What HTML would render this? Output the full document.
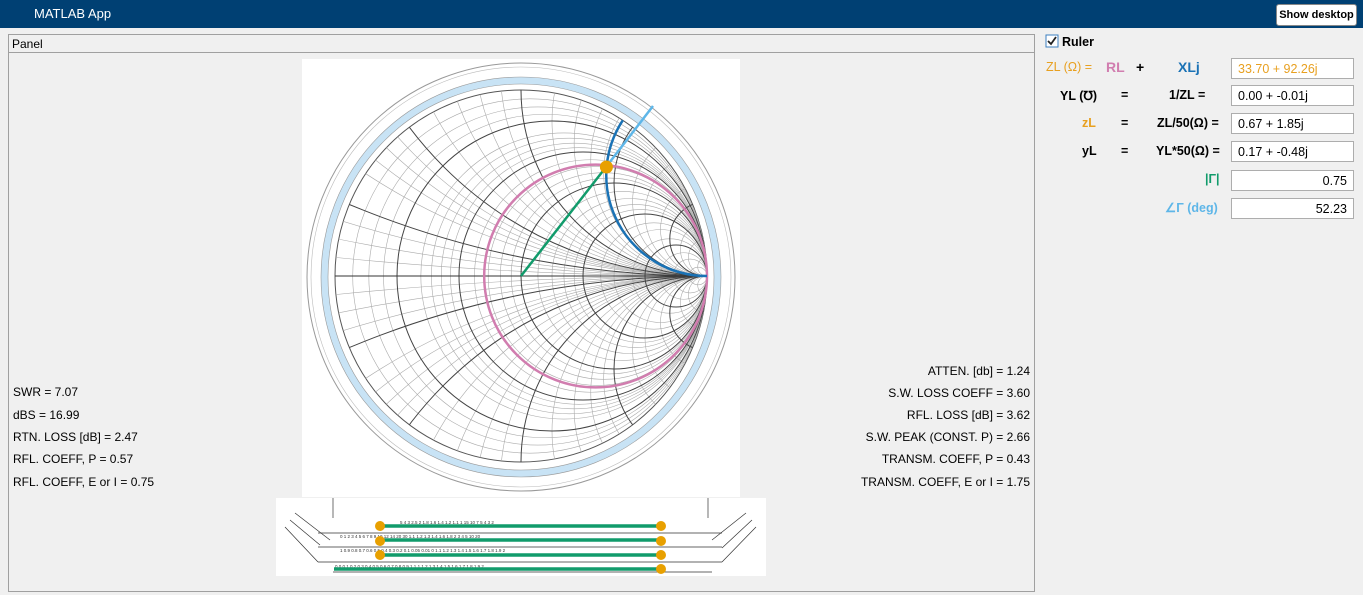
<!DOCTYPE html>
<html><head><meta charset="utf-8"><style>
body{margin:0;width:1363px;height:595px;background:#f0f0f0;font-family:"Liberation Sans",Arial,sans-serif;position:relative;overflow:hidden}
.top{position:absolute;left:0;top:0;width:1363px;height:28px;background:#004073}
.top span{position:absolute;left:34px;top:6px;color:#fff;font-size:13px}
.btn{position:absolute;right:6px;top:4px;width:79px;height:20px;background:#fff;border:1px solid #888;border-radius:3px;font-size:11px;font-weight:bold;text-align:center;line-height:20px;color:#000}
.panel{position:absolute;left:8px;top:34px;width:1025px;height:556px;border:1px solid #a0a0a0}
.ptitle{position:absolute;left:0;top:0;width:1025px;height:18px;border-bottom:1px solid #a0a0a0;font-size:12px;line-height:18px;padding-left:3px;box-sizing:border-box}
.lt{position:absolute;font-size:12px;color:#000;white-space:nowrap}
.r{text-align:right}
.lab{position:absolute;font-size:12.5px;font-weight:bold;white-space:nowrap}
.box{position:absolute;left:1231px;width:123px;height:21px;background:#fff;border:1px solid #adadad;font-size:12.5px;line-height:20px;padding:0 6px;box-sizing:border-box}
svg{display:block}
</style></head><body>
<div class="top"><span>MATLAB App</span><div class="btn">Show desktop</div></div>
<div class="panel"><div class="ptitle">Panel</div></div>
<svg style="position:absolute;left:0;top:0" width="1363" height="590">
<rect x="302" y="59" width="438" height="438" fill="#fff"/>
<rect x="276" y="498" width="490" height="78" fill="#fff"/>
<defs><clipPath id="uc"><circle cx="521" cy="276" r="186"/></clipPath></defs>
<circle cx="521" cy="277" r="214" fill="none" stroke="#999" stroke-width="1"/>
<circle cx="521" cy="277" r="210" fill="none" stroke="#bbb" stroke-width="0.6"/>
<circle cx="521" cy="277" r="196.5" fill="none" stroke="#c8e3f5" stroke-width="7"/>
<circle cx="521" cy="277" r="200" fill="none" stroke="#999" stroke-width="0.6"/>
<circle cx="521" cy="277" r="193" fill="none" stroke="#999" stroke-width="0.6"/>
<circle cx="521" cy="276" r="186" fill="none" stroke="#555" stroke-width="1"/>
<g id="grid" clip-path="url(#uc)" fill="none"></g>
<line x1="335" y1="276" x2="707" y2="276" stroke="#333" stroke-width="1"/>
<circle cx="595.6" cy="276" r="111.4" fill="none" stroke="#d17daf" stroke-width="2.5"/>
<path d="M707,276 A100.5,100.5 0 0 1 622.8,120.3" fill="none" stroke="#1a72b5" stroke-width="2.5"/>
<line x1="606.4" y1="166.5" x2="653" y2="106" stroke="#5eb6e8" stroke-width="2.5"/>
<line x1="521" y1="276" x2="606.4" y2="166.5" stroke="#119b6b" stroke-width="2.5"/>
<circle cx="606.4" cy="167" r="6.5" fill="#e8a000"/>
<g stroke="#333" stroke-width="0.7" fill="none">
<line x1="295" y1="513" x2="330" y2="540"/><line x1="290" y1="520" x2="320" y2="545"/><line x1="285" y1="527" x2="318" y2="562"/>
<line x1="746" y1="513" x2="712" y2="540"/><line x1="752" y1="520" x2="722" y2="548"/><line x1="756" y1="527" x2="722" y2="562"/>
<line x1="318" y1="533" x2="722" y2="533"/><line x1="318" y1="547" x2="722" y2="547"/><line x1="318" y1="562" x2="722" y2="562"/>
<line x1="333" y1="572" x2="712" y2="572"/>
<line x1="333" y1="498" x2="333" y2="518"/><line x1="708" y1="498" x2="708" y2="518"/>
</g>
<g fill="#333" font-size="4.5" font-family="Liberation Sans">
<text x="400" y="524">5 4 3 2.5 2 1.8 1.6 1.4 1.2 1.1 1 15 10 7 5 4 3 2</text>
<text x="340" y="538">0 1 2 3 4 5 6 7 8 9 10 12 14 20 30 1.1 1.2 1.3 1.4 1.6 1.8 2 3 4 5 10 20</text>
<text x="340" y="552">1 0.9 0.8 0.7 0.6 0.5 0.4 0.3 0.2 0.1 0.05 0.01 0 1.1 1.2 1.3 1.4 1.5 1.6 1.7 1.8 1.9 2</text>
<text x="335" y="568">0.0 0.1 0.2 0.3 0.4 0.5 0.6 0.7 0.8 0.9 1 1.1 1.2 1.3 1.4 1.5 1.6 1.7 1.8 1.9 2</text>
</g>
<g stroke="#119b6b" stroke-width="3.5"><line x1="380" y1="526" x2="661" y2="526"/><line x1="380" y1="540" x2="661" y2="540"/><line x1="380" y1="555" x2="661" y2="555"/><line x1="334" y1="569" x2="661" y2="569"/></g>
<g fill="#e8a000"><circle cx="380" cy="526" r="5"/><circle cx="661" cy="526" r="5"/><circle cx="380" cy="541" r="5"/><circle cx="661" cy="541" r="5"/><circle cx="380" cy="555" r="5"/><circle cx="661" cy="555" r="5"/><circle cx="661" cy="569" r="5"/></g>
<rect x="1046" y="35" width="12" height="12" fill="#fff" stroke="#3c7fc0"/>
<path d="M1048,41 l3,3 l5,-7" stroke="#222" stroke-width="1.8" fill="none"/>
</svg>
<script>
var g=document.getElementById('grid'),cx=521,cy=276,R=186,s='';
function c(x,y,r,w,col){s+='<circle cx="'+(cx+x*R)+'" cy="'+(cy-y*R)+'" r="'+(r*R)+'" stroke="'+col+'" stroke-width="'+w+'"/>';}
var fine=[0.05,0.1,0.15,0.3,0.35,0.4,0.45,0.6,0.7,0.8,0.9,1.2,1.4,1.6,1.8,2.5,3,4,7,10,20];
var maj=[0.2,0.5,1,2,5];
fine.forEach(function(r){c(r/(1+r),0,1/(1+r),0.6,'#aaa');c(1,1/r,1/r,0.6,'#aaa');c(1,-1/r,1/r,0.6,'#aaa');});
maj.forEach(function(r){c(r/(1+r),0,1/(1+r),1,'#444');c(1,1/r,1/r,1,'#444');c(1,-1/r,1/r,1,'#444');});
g.innerHTML=s;
</script>
<div class="lt" style="left:13px;top:385px">SWR = 7.07</div>
<div class="lt" style="left:13px;top:408px">dBS = 16.99</div>
<div class="lt" style="left:13px;top:430px">RTN. LOSS [dB] = 2.47</div>
<div class="lt" style="left:13px;top:452px">RFL. COEFF, P = 0.57</div>
<div class="lt" style="left:13px;top:475px">RFL. COEFF, E or I = 0.75</div>
<div class="lt r" style="right:333px;top:364px">ATTEN. [db] = 1.24</div>
<div class="lt r" style="right:333px;top:386px">S.W. LOSS COEFF = 3.60</div>
<div class="lt r" style="right:333px;top:408px">RFL. LOSS [dB] = 3.62</div>
<div class="lt r" style="right:333px;top:430px">S.W. PEAK (CONST. P) = 2.66</div>
<div class="lt r" style="right:333px;top:452px">TRANSM. COEFF, P = 0.43</div>
<div class="lt r" style="right:333px;top:475px">TRANSM. COEFF, E or I = 1.75</div>
<div class="lab" style="left:1062px;top:35px">Ruler</div>
<div class="lab" style="left:1046px;top:60px;color:#e8a020;font-weight:normal">ZL (Ω) =</div>
<div class="lab" style="left:1106px;top:59px;color:#d17daf;font-size:14px">RL</div>
<div class="lab" style="left:1136px;top:59px;font-size:14px">+</div>
<div class="lab" style="left:1178px;top:59px;color:#1a72b5;font-size:14px">XLj</div>
<div class="box" style="top:58px;color:#e8a020">33.70 + 92.26j</div>
<div class="lab" style="left:1060px;top:88px">YL (℧)</div>
<div class="lab" style="left:1121px;top:88px">=</div>
<div class="lab" style="left:1169px;top:88px">1/ZL =</div>
<div class="box" style="top:85px">0.00 + -0.01j</div>
<div class="lab" style="left:1082px;top:116px;color:#e8a020">zL</div>
<div class="lab" style="left:1121px;top:116px">=</div>
<div class="lab" style="left:1157px;top:116px">ZL/50(Ω) =</div>
<div class="box" style="top:113px">0.67 + 1.85j</div>
<div class="lab" style="left:1082px;top:144px">yL</div>
<div class="lab" style="left:1121px;top:144px">=</div>
<div class="lab" style="left:1156px;top:144px">YL*50(Ω) =</div>
<div class="box" style="top:141px">0.17 + -0.48j</div>
<div class="lab" style="left:1205px;top:172px;color:#119b6b">|Γ|</div>
<div class="box" style="top:170px;text-align:right">0.75</div>
<div class="lab" style="left:1165px;top:200px;color:#5eb6e8">∠Γ (deg)</div>
<div class="box" style="top:198px;text-align:right">52.23</div>
</body></html>
